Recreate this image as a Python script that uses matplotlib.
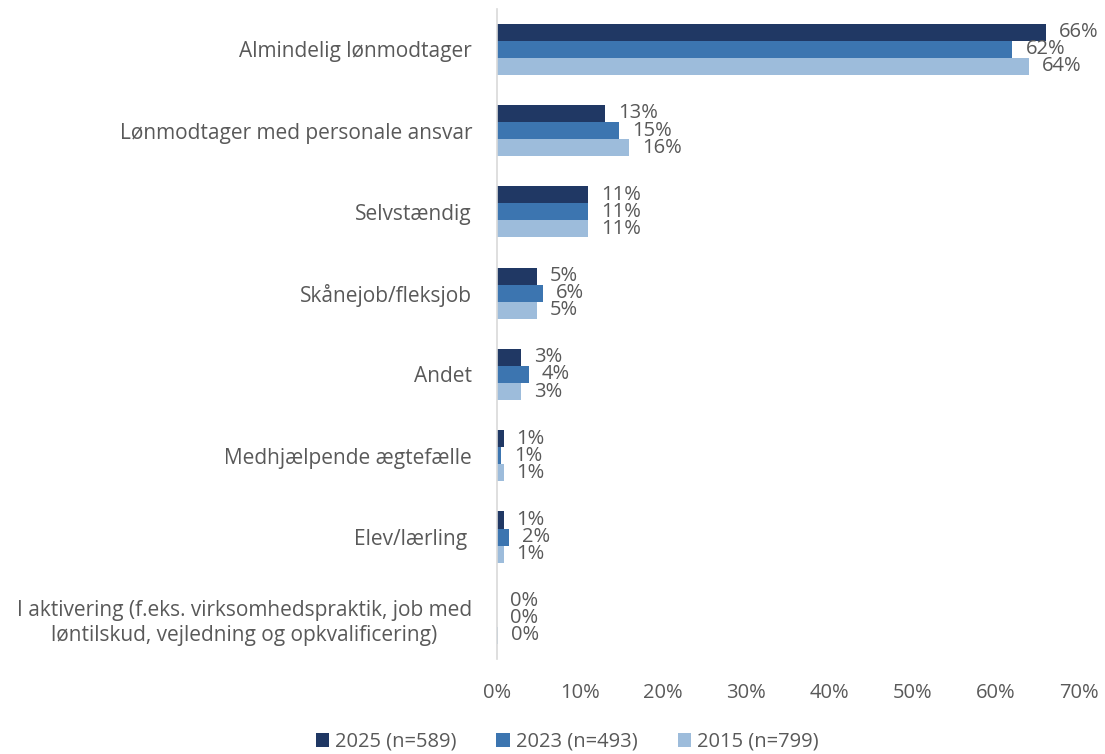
import matplotlib
matplotlib.use("Agg")
import matplotlib.pyplot as plt
import matplotlib.transforms as mtransforms
import numpy as np

categories = [
    "Almindelig lønmodtager",
    "Lønmodtager med personale ansvar",
    "Selvstændig",
    "Skånejob/fleksjob",
    "Andet",
    "Medhjælpende ægtefælle",
    "Elev/lærling ",
    "I aktivering (f.eks. virksomhedspraktik, job med\nløntilskud, vejledning og opkvalificering)",
]
series_names = ["2025 (n=589)", "2023 (n=493)", "2015 (n=799)"]
v2025 = [66, 13, 11, 4.8, 2.9, 0.8, 0.8, 0.0]
v2023 = [62, 14.7, 11, 5.5, 3.8, 0.5, 1.4, 0.0]
v2015 = [64, 15.9, 11, 4.8, 2.9, 0.8, 0.8, 0.15]
l2025 = ["66%", "13%", "11%", "5%", "3%", "1%", "1%", "0%"]
l2023 = ["62%", "15%", "11%", "6%", "4%", "1%", "2%", "0%"]
l2015 = ["64%", "16%", "11%", "5%", "3%", "1%", "1%", "0%"]
xticks = [0, 10, 20, 30, 40, 50, 60, 70]

colors = ["#203864", "#3c75b0", "#9dbcdb"]
text_color = "#595959"
plt.rcParams["font.family"] = ["Open Sans", "DejaVu Sans"]

fig = plt.figure(figsize=(11.05, 7.54), dpi=100)
ax = fig.add_axes([497/1105, 1-659/754, (1079-497)/1105, (659-8.6)/754])

n = len(categories)
y = np.arange(n)
h = 0.21
offsets = [-h, 0, h]
for vals, labs, col, off, name in zip([v2025, v2023, v2015], [l2025, l2023, l2015], colors, offsets, series_names):
    ax.barh(y + off, vals, height=h, color=col, label=name)
    for yi, v, lab in zip(y, vals, labs):
        ax.annotate(lab, (v, yi + off), xytext=(13, 0), textcoords="offset pixels",
                    va="center", ha="left", fontsize=14.5, color=text_color)

ax.set_ylim(n - 0.5, -0.5)
ax.set_xlim(0, 70)
ax.set_yticks(y)
ax.set_yticklabels(categories, fontsize=15, color=text_color)
for lbl in ax.get_yticklabels():
    lbl.set_multialignment("center")
    lbl.set_linespacing(1.25)
ax.set_xticks(xticks)
ax.set_xticklabels([f"{t}%" for t in xticks], fontsize=14.5, color=text_color)
shift = mtransforms.ScaledTranslation(-5/100, 0, fig.dpi_scale_trans)
for lbl in ax.get_xticklabels():
    lbl.set_transform(lbl.get_transform() + shift)
ax.tick_params(axis="y", length=0, pad=18)
ax.tick_params(axis="x", length=0, pad=17)
for s in ["top", "right", "bottom"]:
    ax.spines[s].set_visible(False)
ax.spines["left"].set_color("#d9d9d9")
ax.spines["left"].set_linewidth(1.2)

leg = fig.legend(loc="center", bbox_to_anchor=(567/1105, 1-742/754), ncol=3, frameon=False,
                 fontsize=14.5, handlelength=0.65, handleheight=0.65, handletextpad=0.3, columnspacing=2.0)
for t in leg.get_texts():
    t.set_color(text_color)

fig.savefig("out.png", dpi=100)
